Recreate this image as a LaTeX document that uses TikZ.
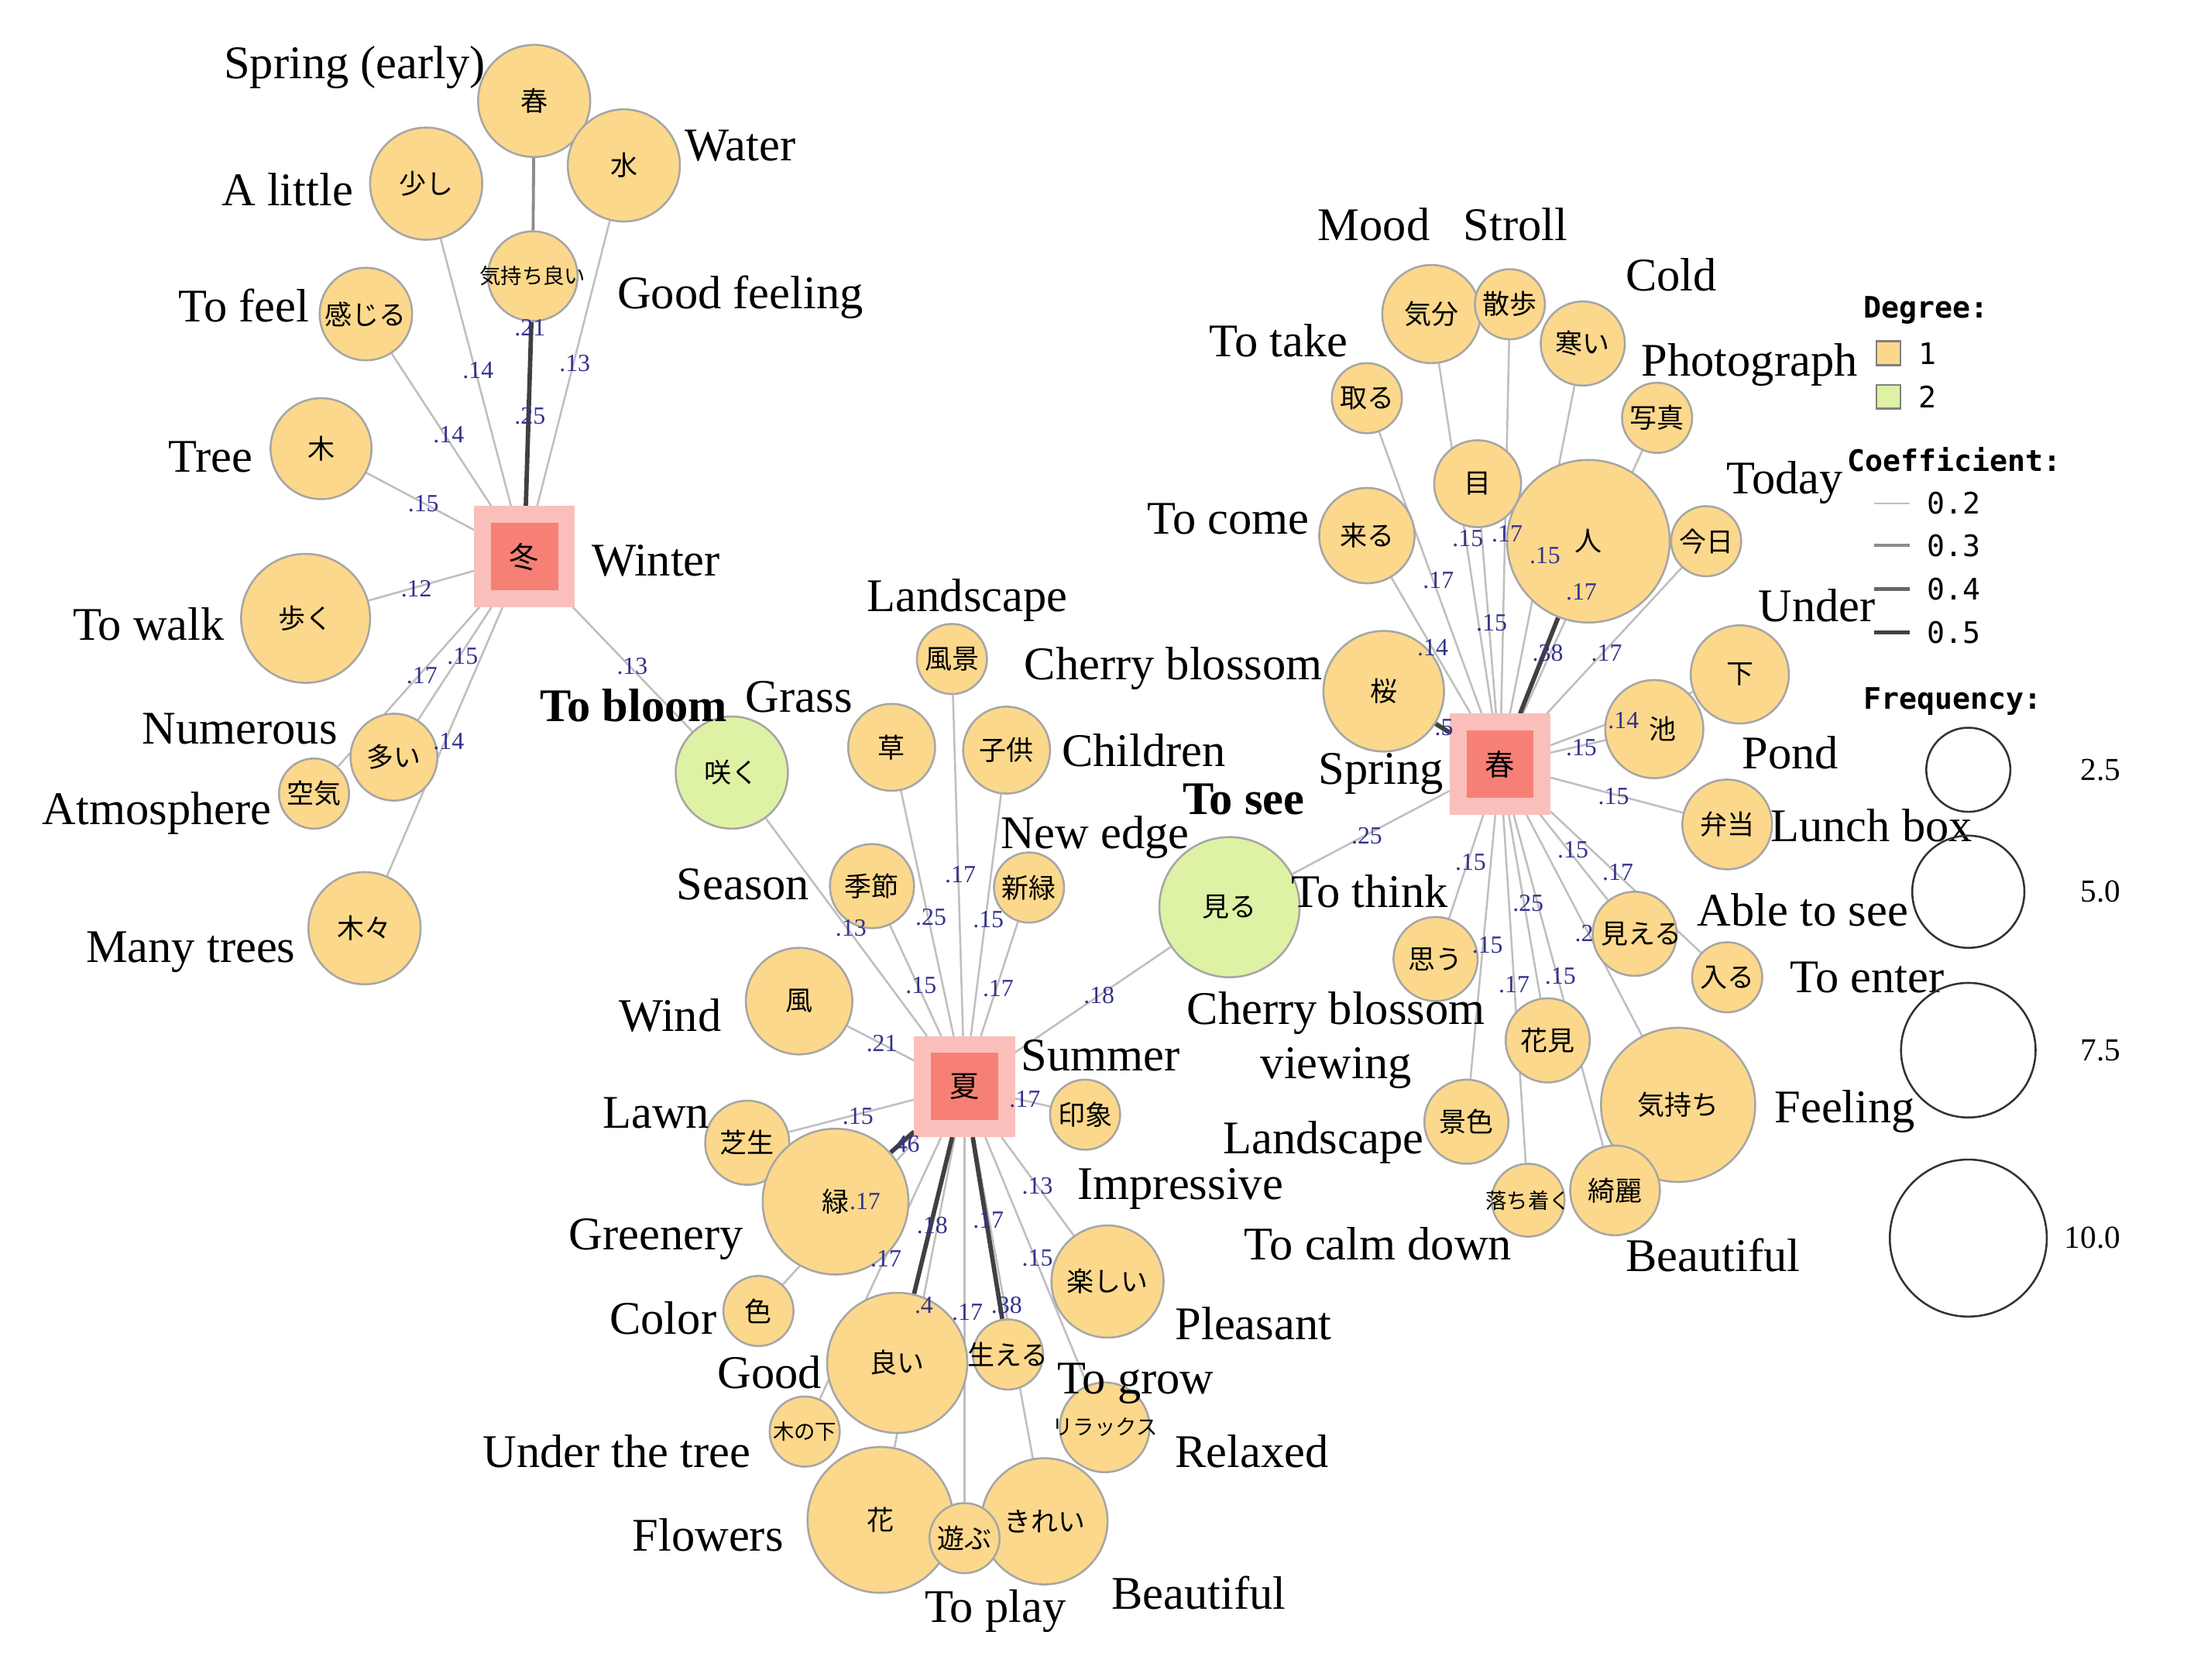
\documentclass[tikz,border=0pt]{standalone}
\usepackage{fontspec}
\setmainfont{Liberation Serif}
\newfontfamily\jp{Noto Sans CJK JP}
\newfontfamily\legfont{DejaVu Sans Mono}
\usetikzlibrary{backgrounds}
\definecolor{bub}{RGB}{252,216,140}
\definecolor{grn}{RGB}{222,242,165}
\definecolor{hub}{RGB}{246,128,118}
\definecolor{elab}{RGB}{50,50,140}
\tikzset{
  word/.style={circle, draw=black!35, fill=bub, inner sep=0pt, font=\jp\fontsize{5.5}{6}\selectfont, minimum size=2*#1*0.01cm,
    execute at begin node={\hbox to 0pt\bgroup\hss}, execute at end node={\hss\egroup}},
  word2/.style={word=#1, fill=grn},
  small/.style={font=\jp\fontsize{4.3}{5}\selectfont},
  hubsq/.style={rectangle, draw=hub!50, line width=1.2mm, fill=hub, inner sep=0pt, minimum size=0.6cm, font=\jp\fontsize{6}{7}\selectfont},
  eng/.style={font=\fontsize{9.5}{11}\selectfont, align=center},
  coef/.style={font=\fontsize{5}{6}\selectfont, text=elab, inner sep=0pt},
  link/.style={draw=black!25, line width=0.4pt},
  link3/.style={draw=black!45, line width=0.6pt},
  link5/.style={draw=black!75, line width=0.9pt}
}
\begin{document}
\begin{tikzpicture}[x=0.01cm,y=-0.01cm]
\useasboundingbox (0,0) rectangle (1560,1198);
% hubs
\node[hubsq] (winter) at (374,397) {冬};
\node[hubsq] (summer) at (688,775) {夏};
\node[hubsq] (spring) at (1070,545) {春};
% shared words
\node[word2=40] (bloom) at (522,551) {咲く};
\node[word2=50] (see) at (877,647) {見る};
% winter words
\node[word=40] (w1) at (381,72) {春};
\node[word=40] (w2) at (445,118) {水};
\node[word=40] (w3) at (304,131) {少し};
\node[word=32, small] (w4) at (380,197) {気持ち良い};
\node[word=33] (w5) at (261,224) {感じる};
\node[word=36] (w6) at (229,320) {木};
\node[word=46] (w7) at (218,441) {歩く};
\node[word=31] (w8) at (281,540) {多い};
\node[word=25] (w9) at (224,566) {空気};
\node[word=40] (w10) at (260,662) {木々};
% summer words
\node[word=25] (s1) at (679,470) {風景};
\node[word=31] (s2) at (636,533) {草};
\node[word=31] (s3) at (718,535) {子供};
\node[word=30] (s4) at (622,632) {季節};
\node[word=25] (s5) at (734,633) {新緑};
\node[word=38] (s6) at (570,714) {風};
\node[word=30] (s7) at (533,815) {芝生};
\node[word=52] (s8) at (596,857) {緑\hspace{0.8em}};
\node[word=25] (s9) at (774,795) {印象};
\node[word=25] (s10) at (541,935) {色};
\node[word=40] (s11) at (790,914) {楽しい};
\node[word=50] (s12) at (640,972) {良い};
\node[word=25] (s13) at (719,966) {生える};
\node[word=25, small] (s14) at (574,1021) {木の下};
\node[word=32, small] (s15) at (788,1018) {リラックス};
\node[word=52] (s16) at (628,1084) {花};
\node[word=45] (s18) at (745,1085) {きれい};
\node[word=25] (s17) at (688,1097) {遊ぶ};
% spring words
\node[word=35] (p1) at (1021,224) {気分};
\node[word=25] (p2) at (1077,217) {散歩};
\node[word=30] (p3) at (1129,245) {寒い};
\node[word=25] (p4) at (975,284) {取る};
\node[word=25] (p5) at (1182,298) {写真};
\node[word=58] (p7) at (1133,386) {人};
\node[word=31] (p6) at (1054,345) {目};
\node[word=34] (p8) at (975,382) {来る};
\node[word=25] (p9) at (1217,386) {今日};
\node[word=43] (p10) at (987,493) {桜};
\node[word=35] (p11) at (1241,481) {下};
\node[word=35] (p12) at (1180,520) {\hspace{0.6em}池};
\node[word=32] (p13) at (1232,588) {弁当};
\node[word=30] (p14) at (1024,684) {思う};
\node[word=30] (p15) at (1166,666) {\hspace{0.5em}見える};
\node[word=25] (p16) at (1232,697) {入る};
\node[word=30] (p17) at (1104,742) {花見};
\node[word=30] (p18) at (1046,800) {景色};
\node[word=55] (p19) at (1197,788) {気持ち};
\node[word=32] (p20) at (1152,849) {綺麗};
\node[word=26, small] (p21) at (1090,856) {落ち着く};
% links
\begin{scope}[on background layer]
\foreach \n in {w2,w3,w5,w6,w7,w8,w9,w10,bloom} \draw[link] (winter) -- (\n);
\draw[link5] (winter) -- (w4);
\draw[link3] (w4) -- (w1);
\foreach \n in {s1,s2,s3,s4,s5,s6,s7,s9,s10,s11,s14,s15,s16,s17,s18,bloom,see} \draw[link] (summer) -- (\n);
\foreach \n in {s8,s12,s13} \draw[link5] (summer) -- (\n);
\foreach \n in {p1,p2,p3,p4,p5,p6,p8,p9,p11,p12,p13,p14,p15,p16,p17,p18,p19,p20,p21,see} \draw[link] (spring) -- (\n);
\foreach \n in {p7,p10} \draw[link5] (spring) -- (\n);
\end{scope}
% coefficients
\foreach \t/\x/\y [count=\i] in {.21/378/234,.13/410/259,.14/341/264,.25/378/297,.14/320/310,.15/302/359,.12/297/420,.17/301/482,.15/330/468,.14/320/529,.13/451/475,
  .13/607/662,.25/664/654,.17/685/624,.15/705/656,.15/657/703,.17/712/705,.18/784/710,.21/629/744,.15/612/796,.46/645/816,.17/617/857,.17/731/784,.13/740/846,.17/632/898,.18/665/874,.17/705/870,.15/740/897,.4/659/931,.17/690/936,.38/718/931,
  .15/1047/384,.17/1075/381,.15/1102/396,.17/1026/414,.17/1128/422,.15/1064/444,.14/1022/462,.38/1104/466,.17/1146/466,.5/1030/519,.14/1158/514,.15/1128/533,.15/1151/568,.25/975/596,.15/1049/615,.15/1122/606,.17/1154/622,.25/1090/644,.2/1130/666,.15/1061/674,.17/1080/702,.15/1113/696}
  \node[coef] (c\i) at (\x,\y) {\t};
% english labels
\foreach \t/\x/\y [count=\i] in {Spring (early)/253/48,Water/528/104,A little/205/135,Good feeling/528/212,To feel/174/218,Tree/150/326,To walk/106/445,Numerous/171/520,Atmosphere/112/580,Many trees/136/679,Winter/468/400,
  Grass/570/497,Landscape/690/428,Children/816/535,Season/530/631,New edge/781/597,Wind/478/724,Lawn/468/794,Greenery/468/884,Impressive/842/848,Color/473/940,Pleasant/894/944,Good/549/979,To grow/810/987,Under the tree/440/1035,Relaxed/893/1035,Flowers/505/1095,To play/710/1149,Beautiful/855/1136,Summer/785/753,
  Mood/980/160,Stroll/1081/160,Cold/1192/196,To take/912/243,Photograph/1248/260,To come/876/370,Today/1273/344,Cherry blossom/837/477,Under/1296/432,Pond/1277/537,Lunch box/1335/589,To think/977/636,Able to see/1286/649,To enter/1332/697,Landscape/944/815,Feeling/1316/793,Beautiful/1222/895,To calm down/983/887,Spring/985/552}
  \node[eng] (l\i) at (\x,\y) {\t};
\node[eng] (lview) at (953,742) {Cherry blossom\\viewing};
\node[eng, font=\bfseries\fontsize{9.5}{11}\selectfont] (lbloom) at (452,503) {To bloom};
\node[eng, font=\bfseries\fontsize{9.5}{11}\selectfont] (lsee) at (887,570) {To see};
% legend
\node[font=\legfont\bfseries\fontsize{6}{7}\selectfont] (degree) at (1374,221) {Degree:};
\node[rectangle, draw=black!50, fill=bub, minimum size=0.17cm, inner sep=0pt] (d1) at (1347,252) {};
\node[rectangle, draw=black!50, fill=grn, minimum size=0.17cm, inner sep=0pt] (d2) at (1347,283) {};
\node[font=\legfont\fontsize{6}{7}\selectfont, anchor=west] (d1l) at (d1.east) {1};
\node[font=\legfont\fontsize{6}{7}\selectfont, anchor=west] (d2l) at (d2.east) {2};
\node[font=\legfont\bfseries\fontsize{6}{7}\selectfont] (coefficient) at (1394,328) {Coefficient:};
\foreach \v/\y/\c/\w in {0.2/359/25/0.4,0.3/389/45/0.6,0.4/420/60/0.75,0.5/451/75/0.9} {
  \coordinate (a\y) at (1337,\y); \coordinate (b\y) at (1362,\y);
  \draw[draw=black!\c, line width=\w pt] (a\y) -- (b\y);
  \node[font=\legfont\fontsize{6}{7}\selectfont, anchor=west] (cv\y) at (b\y) {\v};
}
\node[font=\legfont\bfseries\fontsize{6}{7}\selectfont] (frequency) at (1393,500) {Frequency:};
\foreach \v/\y/\r in {2.5/549/30,5.0/636/40,7.5/749/48,10.0/883/56} {
  \node[circle, draw=black!80, minimum size=2*\r*0.01cm] (f\y) at (1404,\y) {};
  \node[font=\fontsize{6.5}{8}\selectfont, anchor=east] (fv\y) at (1525,\y) {\v};
}
\end{tikzpicture}
\end{document}
